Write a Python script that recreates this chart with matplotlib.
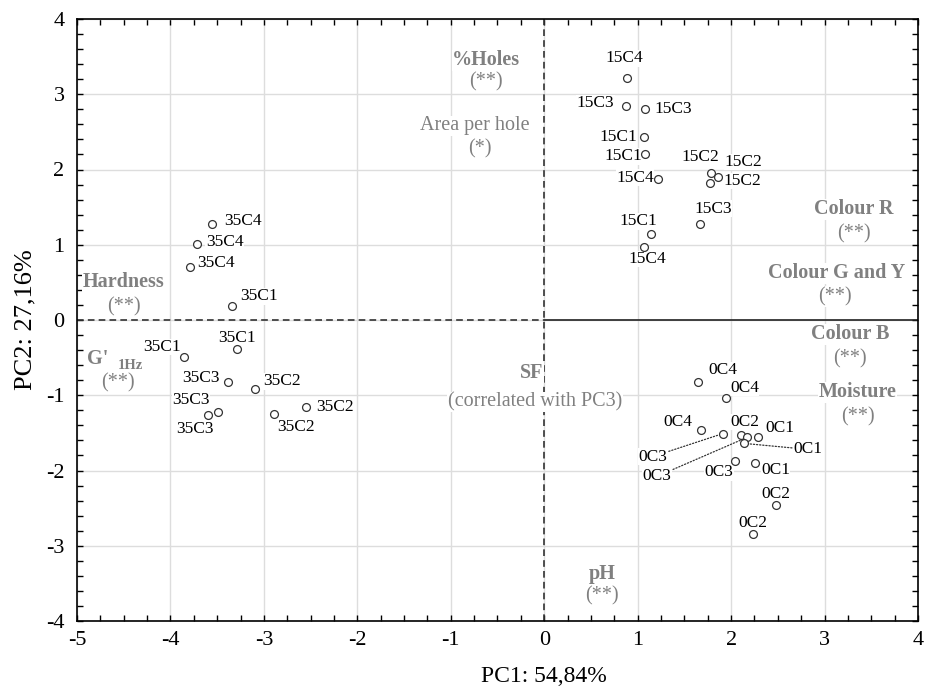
import matplotlib
matplotlib.use("Agg")
import matplotlib.pyplot as plt
from matplotlib.ticker import MultipleLocator

plt.rcParams['font.family'] = ['Liberation Serif', 'DejaVu Serif']
plt.rcParams['axes.unicode_minus'] = False

# ---- sample scores (PC1, PC2) ----
labels = ["15C4", "15C3", "15C3", "15C1", "15C1", "15C4", "15C2", "15C2", "15C2", "15C3", "15C1", "15C4",
          "0C4", "0C4", "0C4", "0C3", "0C2", "0C3", "0C1", "0C1", "0C3", "0C1", "0C2", "0C2",
          "35C4", "35C4", "35C4", "35C1", "35C1", "35C1", "35C3", "35C2", "35C3", "35C3", "35C2", "35C2"]
pc1 = [0.89, 0.87, 1.08, 1.07, 1.08, 1.22, 1.79, 1.86, 1.77, 1.67, 1.14, 1.07,
       1.65, 1.95, 1.68, 1.91, 2.11, 2.17, 2.29, 2.14, 2.04, 2.26, 2.48, 2.23,
       -3.56, -3.72, -3.79, -3.34, -3.29, -3.85, -3.38, -3.10, -3.60, -3.49, -2.89, -2.55]
pc2 = [3.21, 2.84, 2.81, 2.43, 2.20, 1.88, 1.95, 1.90, 1.82, 1.28, 1.14, 0.97,
       -0.83, -1.03, -1.46, -1.51, -1.53, -1.56, -1.55, -1.64, -1.88, -1.90, -2.46, -2.84,
       1.27, 1.01, 0.71, 0.18, -0.39, -0.49, -0.82, -0.92, -1.26, -1.22, -1.25, -1.16]

# label placement (offset in pixels) and whether a dotted leader is drawn
label_offsets = [(-3, 20), (-30, 3), (28, 0), (-26, 0), (-22, -2), (-23, 1), (-11, 16), (25, 15), (33, 2),
                 (13, 15), (-12, 13), (3, -12),
                 (24, 12), (18, 10), (-23, 8), (-70, -23), (3, 13), (-90, -39), (22, 9), (64, -6),
                 (-16, -11), (20, -7), (0, 11), (0, 11),
                 (31, 3), (28, 2), (26, 4), (27, 10), (0, 11), (-22, 10), (-27, 4), (27, 8),
                 (-13, -14), (-27, 12), (22, -13), (29, 0)]
leader = [False] * 15 + [True, False, True, False, True] + [False] * 16

# ---- variable annotations (grey) ----
var_texts = [("%Holes", -0.62, 3.45, "bold"), ("(**)", -0.62, 3.16, "normal"),
             ("Area per hole", -0.74, 2.58, "normal"), ("(*)", -0.69, 2.28, "normal"),
             ("Colour R", 3.31, 1.47, "bold"), ("(**)", 3.31, 1.15, "normal"),
             ("Colour G and Y", 3.13, 0.62, "bold"), ("(**)", 3.11, 0.31, "normal"),
             ("Colour B", 3.27, -0.19, "bold"), ("(**)", 3.27, -0.51, "normal"),
             ("Moisture", 3.35, -0.96, "bold"), ("(**)", 3.36, -1.29, "normal"),
             ("Hardness", -4.50, 0.51, "bold"), ("(**)", -4.50, 0.18, "normal"),
             ("SF", -0.13, -0.70, "bold"), ("(correlated with PC3)", -0.10, -1.09, "normal"),
             ("pH", 0.62, -3.37, "bold"), ("(**)", 0.62, -3.67, "normal")]
gmod_texts = [("G'", -4.78, -0.52, "bold", 14.5), ("1Hz", -4.43, -0.61, "bold", 10.5),
              ("(**)", -4.56, -0.83, "normal", 14.5)]

grey = "#808080"

fig = plt.figure(figsize=(9.35, 6.92), dpi=100)
ax = fig.add_axes([77 / 935, 1 - 621 / 692, (918 - 77) / 935, (621 - 19) / 692])
ax.set_xlim(-5, 4)
ax.set_ylim(-4, 4)

ax.xaxis.set_major_locator(MultipleLocator(1))
ax.yaxis.set_major_locator(MultipleLocator(1))
ax.xaxis.set_minor_locator(MultipleLocator(0.25))
ax.yaxis.set_minor_locator(MultipleLocator(0.2))
ax.tick_params(which='both', direction='in', top=True, right=True, length=4, width=1, color='black')
ax.tick_params(axis='x', labelsize=16, pad=7)
ax.tick_params(axis='y', labelsize=16, pad=9)
ax.grid(True, which='major', color='#dddddd', lw=1, zorder=0)
ax.set_axisbelow(True)
for s in ax.spines.values():
    s.set_linewidth(1.2)

ax.set_xlabel("PC1: 54,84%", fontsize=17)
ax.xaxis.set_label_coords(5 / 9, -0.074)
ax.set_ylabel("PC2: 27,16%", fontsize=19)
ax.yaxis.set_label_coords(-0.048, 0.5)

# reference lines
ax.axvline(0, color='#333333', lw=1.2, ls=(0, (4, 2.5)), zorder=1)
ax.hlines(0, -5, 0, color='#333333', lw=1.2, ls=(0, (4, 2.5)), zorder=1)
ax.hlines(0, 0, 4, color='#222222', lw=1.2, zorder=1)

ax.scatter(pc1, pc2, s=32, facecolors='white', edgecolors='#333333', linewidths=0.9, zorder=5)

for lab, x, y, off, ld in zip(labels, pc1, pc2, label_offsets, leader):
    kw = dict(xy=(x, y), xytext=off, textcoords='offset pixels', ha='center', va='center',
              fontsize=12.5, color='black', zorder=4,
              bbox=dict(facecolor='white', edgecolor='none', pad=0.3))
    if ld:
        kw['arrowprops'] = dict(arrowstyle='-', linestyle=(0, (1, 1.5)), lw=0.9, color='#333333',
                                shrinkA=1, shrinkB=3)
    ax.annotate(lab, **kw)

for txt, x, y, w in var_texts:
    ax.text(x, y, txt, ha='center', va='center', fontsize=14.5, fontweight=w, color=grey, zorder=3,
            bbox=dict(facecolor='white', edgecolor='none', pad=0.5))
for txt, x, y, w, fs in gmod_texts:
    ax.text(x, y, txt, ha='center', va='center', fontsize=fs, fontweight=w, color=grey, zorder=3)

fig.savefig("out.png", dpi=100)
